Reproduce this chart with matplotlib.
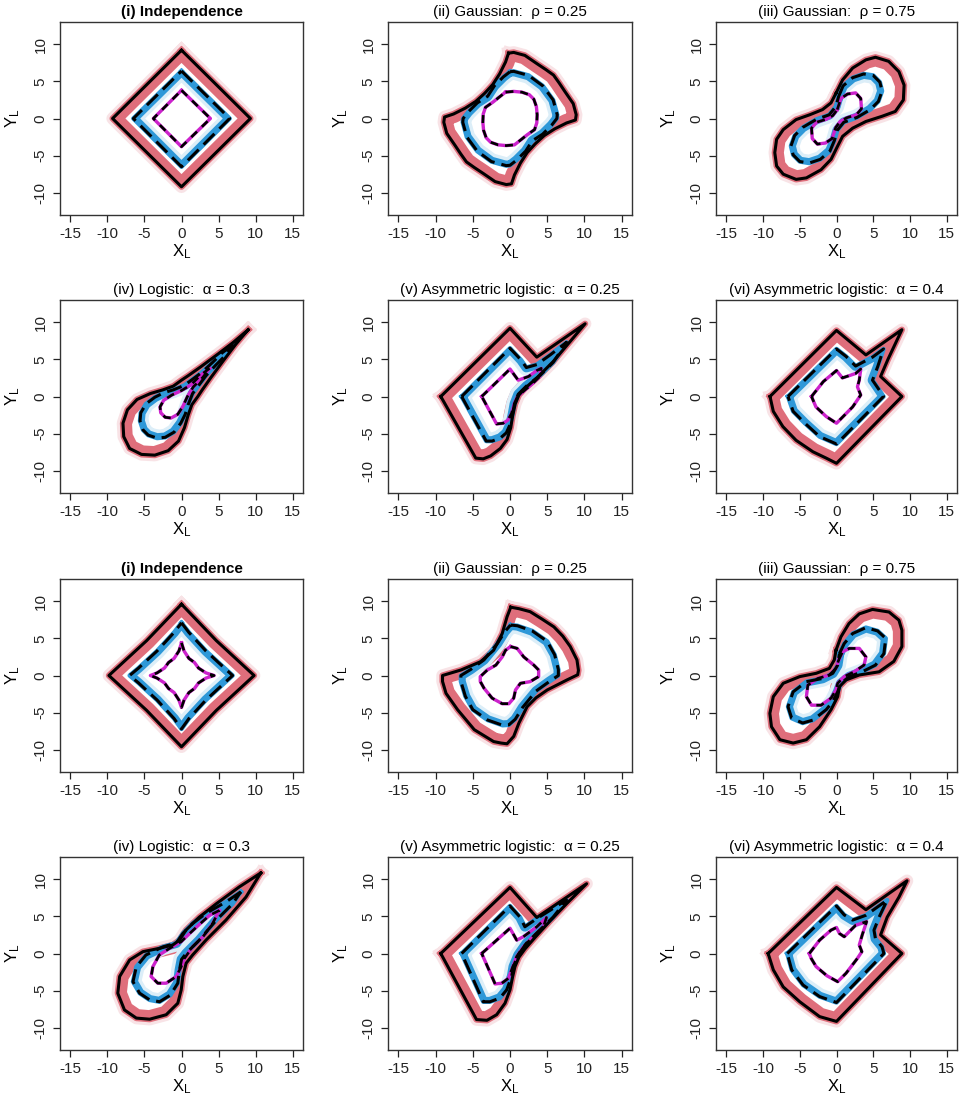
import matplotlib
matplotlib.use("Agg")
import matplotlib.pyplot as plt
from matplotlib.patches import Polygon

plt.rcParams['font.family'] = ['Liberation Sans', 'DejaVu Sans']
plt.rcParams['mathtext.default'] = 'regular'

# ---------------- data: contour vertices ----------------
titles = ["(i) Independence", "(ii) Gaussian:  \u03c1 = 0.25", "(iii) Gaussian:  \u03c1 = 0.75",
          "(iv) Logistic:  \u03b1 = 0.3", "(v) Asymmetric logistic:  \u03b1 = 0.25",
          "(vi) Asymmetric logistic:  \u03b1 = 0.4"]

# row 1 / row 3 : (i) independence
a1_outer = [(0, 9.2), (9.3, 0), (0, -9.2), (-9.3, 0)]
a1_mid = [(0, 6.4), (6.5, 0), (0, -6.5), (-6.5, 0)]
a1_inner = [(0, 3.8), (3.9, 0), (0, -3.8), (-3.8, 0)]

c1_outer = [(0, 9.6), (4.7, 4.7), (9.8, 0), (4.7, -4.7), (0, -9.6), (-4.7, -4.7), (-9.8, 0), (-4.7, 4.7)]
c1_mid = [(0, 7.1), (1.0, 5.8), (3.3, 3.3), (5.8, 1.0), (6.9, 0), (5.8, -1.0), (3.3, -3.3), (1.0, -5.8),
          (0, -7.2), (-1.0, -5.8), (-3.3, -3.3), (-5.8, -1.0), (-7.0, 0), (-5.8, 1.0), (-3.3, 3.3), (-1.0, 5.8)]
c1_inner = [(0, 4.4), (0.35, 3.3), (1.0, 2.3), (1.75, 1.75), (2.3, 1.0), (3.3, 0.35), (4.4, 0),
            (3.3, -0.35), (2.3, -1.0), (1.75, -1.75), (1.0, -2.3), (0.35, -3.3), (0, -4.3),
            (-0.35, -3.3), (-1.0, -2.3), (-1.75, -1.75), (-2.3, -1.0), (-3.3, -0.35), (-4.2, 0),
            (-3.3, 0.35), (-2.3, 1.0), (-1.75, 1.75), (-1.0, 2.3), (-0.35, 3.3)]

# (ii) Gaussian rho = 0.25
a2_outer = [(-0.2, 8.8), (0.5, 8.9), (2.0, 8.5), (3.6, 7.4), (4.8, 6.6), (5.85, 5.85), (6.6, 4.8),
            (7.4, 3.6), (8.5, 2.0), (8.9, 0.5), (8.8, -0.2), (7.6, -0.6), (6.0, -1.4), (4.6, -2.3),
            (3.4, -3.4), (2.3, -4.6), (1.4, -6.0), (0.6, -7.6), (0.2, -8.8), (-0.5, -8.9), (-2.0, -8.5),
            (-3.6, -7.4), (-4.8, -6.6), (-5.85, -5.85), (-6.6, -4.8), (-7.4, -3.6), (-8.5, -2.0),
            (-8.9, -0.5), (-8.8, 0.2), (-7.6, 0.6), (-6.0, 1.4), (-4.6, 2.3), (-3.4, 3.4), (-2.3, 4.6),
            (-1.4, 6.0), (-0.6, 7.6)]
a2_mid = [(0, 6.3), (0.5, 6.35), (2.5, 5.8), (4.4, 4.4), (5.8, 2.5), (6.35, 0.5), (6.3, 0), (5.6, -0.9),
          (4.4, -2.1), (3.0, -3.0), (2.1, -4.4), (0.9, -5.6), (0, -6.3), (-0.5, -6.35), (-2.5, -5.8),
          (-4.4, -4.4), (-5.8, -2.5), (-6.35, -0.5), (-6.3, 0), (-5.6, 0.9), (-4.4, 2.1), (-3.0, 3.0),
          (-2.1, 4.4), (-0.9, 5.6)]
a2_inner = [(-0.6, 3.55), (0.5, 3.65), (1.6, 3.55), (2.6, 3.2), (3.2, 2.6), (3.55, 1.6), (3.65, 0.5),
            (3.6, -0.6), (3.3, -1.5), (2.3, -2.2), (1.3, -3.0), (0.6, -3.55), (-0.5, -3.65), (-1.6, -3.55),
            (-2.6, -3.2), (-3.2, -2.6), (-3.55, -1.6), (-3.65, -0.5), (-3.6, 0.6), (-3.3, 1.5),
            (-2.3, 2.2), (-1.3, 3.0)]

c2_outer = [(0.1, 9.2), (1.2, 9.0), (2.7, 8.6), (4.3, 7.6), (5.9, 6.55), (7.1, 5.3), (8.1, 3.9), (9.0, 2.1),
            (9.2, 0.7), (9.1, 0.1), (7.65, -0.6), (5.0, -1.95), (3.5, -3.0), (2.3, -4.2), (1.2, -6.4),
            (0.5, -8.2), (-0.4, -9.2), (-1.2, -9.1), (-2.2, -8.9), (-4.8, -7.3), (-7.05, -4.6),
            (-8.6, -2.4), (-9.07, -0.8), (-9.07, 0), (-6.6, 0.74), (-3.95, 1.86), (-2.2, 3.4),
            (-1.05, 5.65), (-0.4, 7.9)]
c2_mid = [(0.07, 6.8), (1.0, 6.7), (3.0, 6.0), (5.0, 4.6), (6.0, 2.8), (6.5, 0.8), (6.5, 0), (5.3, -0.8),
          (3.5, -2.1), (1.7, -4.3), (0.7, -5.9), (-0.15, -6.65), (-1.0, -6.7), (-3.0, -6.0), (-5.0, -4.6),
          (-6.0, -2.8), (-6.6, -0.8), (-6.6, 0), (-5.3, 0.8), (-3.5, 2.1), (-1.7, 4.3), (-0.7, 5.9)]
c2_inner = [(0.07, 3.9), (0.96, 3.65), (1.85, 2.5), (3.2, 1.4), (3.85, 0.74), (3.85, -0.15), (2.7, -0.83),
            (1.4, -1.05), (0.74, -1.95), (0.5, -3.05), (-0.15, -3.8), (-1.05, -3.8), (-2.4, -3.05),
            (-3.5, -1.7), (-4.0, -0.8), (-4.0, -0.15), (-3.05, 0.74), (-1.9, 1.4), (-1.05, 2.5),
            (-0.6, 3.4)]

# (iii) Gaussian rho = 0.75
a3_outer = [(-0.07, 3.4), (0.83, 5.2), (2.2, 6.8), (4.0, 7.9), (5.3, 8.25), (7.1, 7.7), (8.5, 6.3),
            (9.2, 4.5), (9.1, 2.5), (8.0, 0.95), (6.2, 0.3), (4.0, -0.4), (2.2, -1.3), (0.83, -2.4),
            (0.16, -3.7), (-0.74, -5.5), (-2.1, -6.9), (-4.1, -8.0), (-5.5, -8.2), (-7.25, -7.5),
            (-8.15, -6.4), (-8.4, -4.6), (-8.15, -2.8), (-7.25, -1.5), (-5.5, -0.15), (-3.65, 0.5),
            (-1.9, 1.2), (-0.75, 2.1)]
a3_mid = [(0.3, 3.0), (0.9, 4.4), (2.2, 5.5), (3.7, 6.0), (5.0, 5.8), (5.9, 4.9), (6.2, 3.7), (5.7, 2.3),
          (4.6, 1.2), (2.8, 0.15), (1.0, -0.5), (0.1, -1.6), (-0.3, -3.0), (-0.9, -4.4), (-2.2, -5.5),
          (-3.7, -6.0), (-5.0, -5.8), (-5.9, -4.9), (-6.2, -3.7), (-5.7, -2.3), (-4.6, -1.2),
          (-2.8, -0.15), (-1.0, 0.5), (-0.1, 1.6)]
a3_inner = [(0.1, 1.2), (0.6, 2.7), (1.5, 3.3), (2.6, 3.45), (3.3, 2.7), (3.4, 1.3), (2.7, 0.5), (1.4, 0.1),
            (0.5, -0.4), (-0.1, -1.2), (-0.6, -2.7), (-1.5, -3.3), (-2.6, -3.45), (-3.3, -2.7),
            (-3.4, -1.3), (-2.7, -0.5), (-1.4, -0.1), (-0.5, 0.4)]

c3_outer = [(-0.07, 3.4), (0.6, 5.2), (1.7, 7.0), (3.1, 8.3), (4.9, 8.9), (7.15, 8.55), (8.5, 7.45),
            (8.9, 6.1), (8.9, 3.9), (7.8, 1.9), (5.8, 0.5), (3.1, 0.07), (1.3, -0.6), (0.4, -1.5),
            (0.16, -2.85), (-0.74, -4.6), (-2.3, -6.9), (-4.1, -8.65), (-5.9, -9.1), (-7.7, -8.65),
            (-8.85, -6.9), (-9.07, -5.1), (-8.6, -2.85), (-7.25, -1.05), (-5.0, -0.15), (-2.75, 0.3),
            (-0.97, 0.96), (-0.3, 2.1)]
c3_mid = [(0.4, 2.95), (1.05, 4.3), (2.2, 5.65), (4.0, 6.45), (5.6, 6.0), (6.7, 5.0), (6.45, 2.95),
          (5.3, 1.4), (3.5, 0.5), (1.75, -0.15), (0.6, -1.05), (0.16, -2.2), (-0.5, -3.5), (-1.4, -4.6),
          (-3.2, -6.0), (-4.6, -6.4), (-6.1, -5.75), (-6.6, -4.2), (-5.9, -2.2), (-4.1, -0.83),
          (-1.9, -0.4), (-0.5, 0.3), (0.16, 1.4)]
c3_inner = [(0.3, 2.1), (0.83, 3.2), (1.75, 3.65), (3.1, 3.65), (4.0, 2.5), (3.75, 1.4), (2.4, 0.5),
            (1.05, -0.15), (0.16, -1.05), (-0.07, -1.95), (-0.74, -3.05), (-2.1, -4.0), (-3.4, -4.0),
            (-4.1, -2.85), (-3.9, -1.3), (-2.55, -0.4), (-0.97, 0.07), (-0.07, 0.96)]

# (iv) logistic alpha = 0.3
b1_outer = [(9.0, 9.0), (7.0, 7.3), (4.9, 5.7), (2.6, 4.0), (0.9, 2.8), (0, 2.2), (-1.1, 1.4), (-2.5, 0.9),
            (-4.2, 0.4), (-6.0, -0.4), (-7.3, -1.8), (-7.9, -3.6), (-7.8, -5.4), (-7.0, -7.0), (-5.4, -7.8),
            (-3.6, -7.9), (-1.8, -7.3), (-0.4, -6.0), (0.4, -4.2), (0.9, -2.5), (1.4, -1.1), (2.2, 0),
            (2.8, 0.9), (4.0, 2.6), (5.7, 4.9), (7.3, 7.0)]
b1_mid = [(7.0, 7.0), (5.5, 5.9), (4.2, 4.6), (2.8, 3.3), (1.6, 2.4), (0.4, 1.5), (-1.1, 0.9), (-2.4, 0.5),
          (-3.6, -0.1), (-4.8, -1.0), (-5.5, -2.2), (-5.6, -3.3), (-5.2, -4.5), (-4.5, -5.2), (-3.3, -5.6),
          (-2.2, -5.5), (-1.0, -4.8), (-0.1, -3.6), (0.5, -2.4), (0.9, -1.1), (1.5, 0.4), (2.4, 1.6),
          (3.3, 2.8), (4.6, 4.2), (5.9, 5.5)]
b1_inner = [(3.8, 3.8), (2.6, 2.9), (1.3, 1.6), (0, 0.8), (-1.3, 0.2), (-2.4, -0.5), (-2.9, -1.4),
            (-2.8, -2.2), (-2.2, -2.8), (-1.4, -2.9), (-0.5, -2.4), (0.2, -1.3), (0.8, 0), (1.6, 1.3),
            (2.9, 2.6)]

d1_outer = [(10.7, 10.85), (7.8, 8.97), (4.7, 6.7), (2.4, 4.9), (0.6, 3.15), (-0.27, 1.8), (-1.2, 1.14),
            (-2.96, 0.7), (-5.2, 0.25), (-7.0, -0.87), (-8.35, -3.1), (-8.6, -5.35), (-7.7, -7.6),
            (-6.1, -8.7), (-4.3, -8.85), (-2.07, -8.25), (-0.5, -6.7), (-0.04, -4.9), (0.18, -3.1),
            (0.63, -1.3), (1.5, -0.2), (3.3, 1.8), (6.0, 4.5), (8.7, 7.6)]
d1_mid = [(8.0, 8.3), (6.0, 6.95), (3.3, 5.4), (1.5, 4.05), (0.18, 2.7), (-0.7, 1.4), (-2.5, 0.9),
          (-4.8, -0.2), (-6.1, -1.8), (-6.55, -3.8), (-5.65, -5.35), (-4.3, -6.25), (-2.96, -6.5),
          (-1.5, -5.6), (-0.5, -4.0), (-0.27, -2.2), (0.0, -0.8), (0.63, 0.02), (2.4, 1.8), (4.7, 4.5),
          (6.9, 6.7)]
d1_inner = [(5.1, 5.8), (3.8, 5.15), (2.5, 4.0), (1.1, 2.7), (-0.04, 1.6), (-1.6, 0.7), (-3.0, -0.2),
            (-3.86, -1.77), (-4.1, -3.1), (-3.2, -4.0), (-2.07, -4.0), (-0.7, -3.1), (-0.04, -1.77),
            (0.4, -0.65), (1.5, 0.9), (2.9, 2.26), (4.2, 4.05)]

# (v) asymmetric logistic alpha = 0.25
b2_outer = [(-9.3, 0), (0, 9.2), (3.6, 5.3), (10.1, 9.8), (5.8, 4.7), (3.6, 2.5), (2.0, 1.1), (1.2, 0.2),
            (0.7, -1.0), (0.35, -2.6), (0.1, -4.2), (-0.4, -5.8), (-1.3, -7.0), (-2.6, -8.0),
            (-3.6, -8.4), (-4.6, -8.3)]
b2_mid = [(-6.5, 0), (0, 6.5), (1.5, 4.9), (2.2, 3.9), (3.6, 4.3), (5.4, 5.6), (7.6, 7.3), (5.8, 4.6),
          (4.0, 2.8), (2.2, 1.4), (1.1, 0.3), (0.6, -1.0), (0.3, -2.6), (0, -3.8), (-0.5, -4.9),
          (-1.3, -5.6), (-2.4, -6.0), (-3.2, -6.0)]
b2_inner = [(-3.8, 0), (0, 3.7), (1.1, 2.2), (2.5, 2.7), (3.6, 3.5), (4.2, 3.8), (4.0, 2.7), (3.1, 1.8),
            (1.8, 0.7), (1.0, 0), (0.6, -0.9), (0.2, -2.3), (-0.3, -3.2), (-0.9, -3.6), (-1.8, -3.7)]

d2_outer = [(-9.3, 0), (0, 8.9), (3.6, 4.85), (10.3, 9.4), (7.6, 6.7), (5.4, 4.4), (3.4, 2.2), (2.0, 0.6),
            (1.2, -0.5), (0.67, -1.77), (0.36, -3.1), (0, -4.9), (-0.67, -6.7), (-1.8, -8.25),
            (-3.1, -9.0), (-4.5, -8.9)]
d2_mid = [(-6.5, 0), (0, 6.4), (1.35, 4.9), (2.0, 3.6), (3.6, 4.7), (7.6, 7.2), (5.8, 4.9), (4.0, 3.15),
          (2.2, 1.37), (1.1, -0.2), (0.45, -1.77), (0.22, -3.1), (-0.45, -4.9), (-1.35, -6.0),
          (-2.7, -6.5), (-3.6, -6.5)]
d2_inner = [(-3.8, 0), (0, 3.4), (0.9, 1.8), (1.8, 2.26), (3.6, 3.6), (4.9, 4.85), (4.5, 3.6), (3.1, 2.26),
            (1.8, 0.9), (0.9, -0.4), (0.22, -2.2), (-0.22, -3.35), (-1.1, -4.0), (-2.0, -4.1)]

# (vi) asymmetric logistic alpha = 0.4
b3_outer = [(-9.05, 0), (0, 8.9), (4.0, 5.6), (8.9, 9.0), (7.0, 5.0), (6.0, 2.7), (8.9, 0), (0, -9.0),
            (-1.4, -8.3), (-3.2, -7.45), (-5.5, -5.9), (-7.3, -4.05), (-8.6, -2.0)]
b3_mid = [(-6.6, 0), (0, 6.4), (1.3, 5.4), (2.6, 4.1), (4.9, 5.3), (6.4, 6.4), (5.6, 4.0), (4.9, 2.2),
          (5.8, 0.9), (6.4, 0), (0, -6.4), (-2.3, -5.4), (-4.3, -3.6), (-5.9, -2.0)]
b3_inner = [(-3.4, 0), (-1.8, 2.0), (0, 3.5), (0.8, 2.5), (2.6, 3.1), (3.3, 3.7), (3.1, 2.2), (2.85, 1.3),
            (3.3, 0.2), (2.2, -1.4), (0, -3.6), (-1.4, -2.7), (-2.8, -1.4)]

d3_outer = [(-9.3, 0), (0, 8.9), (4.0, 5.9), (9.6, 9.8), (8.5, 7.6), (6.9, 4.9), (6.0, 2.5), (8.9, 0),
            (0, -9.15), (-2.3, -8.5), (-5.0, -6.5), (-7.25, -4.5), (-8.6, -2.2)]
d3_mid = [(-6.7, 0), (0, 6.4), (1.05, 5.2), (2.2, 4.5), (4.0, 5.15), (6.9, 7.2), (5.8, 4.9), (5.1, 3.15),
          (5.3, 2.0), (6.2, 0.9), (6.45, 0), (0, -6.6), (-2.3, -5.8), (-4.55, -4.25), (-6.1, -2.2)]
d3_inner = [(-3.7, 0), (-2.3, 1.8), (-0.74, 3.15), (0, 3.5), (0.4, 2.7), (1.05, 2.26), (2.6, 3.8),
            (4.1, 4.3), (3.5, 2.5), (3.1, 1.14), (3.45, 0.25), (2.85, -0.65), (1.3, -2.66), (0.16, -3.8),
            (-1.3, -3.0), (-2.77, -1.77), (-3.45, -0.65)]

panels = [
    (a1_outer, a1_mid, a1_inner), (a2_outer, a2_mid, a2_inner), (a3_outer, a3_mid, a3_inner),
    (b1_outer, b1_mid, b1_inner), (b2_outer, b2_mid, b2_inner), (b3_outer, b3_mid, b3_inner),
    (c1_outer, c1_mid, c1_inner), (c2_outer, c2_mid, c2_inner), (c3_outer, c3_mid, c3_inner),
    (d1_outer, d1_mid, d1_inner), (d2_outer, d2_mid, d2_inner), (d3_outer, d3_mid, d3_inner),
]
xticks = [-15, -10, -5, 0, 5, 10, 15]
yticks = [-10, -5, 0, 5, 10]

# ---------------- styling / layout ----------------
PINK = '#DF6E7B'
PINK_FAINT = '#F3CDD2'
BLUE = '#2E98D8'
BLUE_LIGHT = '#DCEEF8'
MAGENTA = '#CC22CC'

W, H = 964, 1102
fig = plt.figure(figsize=(W / 100, H / 100), dpi=100)

col_left = [60, 388, 716]
col_width = [243, 244, 241]
row_top = [22, 300, 579, 857]
row_h = 193


def closed(pts):
    xs = [p[0] for p in pts] + [pts[0][0]]
    ys = [p[1] for p in pts] + [pts[0][1]]
    return xs, ys


def draw_panel(ax, outer, mid, inner):
    ox, oy = closed(outer)
    mx, my = closed(mid)
    ix, iy = closed(inner)
    opoly = Polygon(outer, closed=True, transform=ax.transData)
    mpoly = Polygon(mid, closed=True, transform=ax.transData)
    # faint spread of the outer estimates
    ax.plot(ox, oy, color=PINK_FAINT, lw=9, alpha=0.55, solid_joinstyle='round', zorder=1)
    band = ax.plot(ox, oy, color=PINK, lw=13, solid_joinstyle='round', zorder=2)[0]
    band.set_clip_path(opoly)
    ax.plot(ox, oy, color=PINK, lw=4.5, solid_joinstyle='round', zorder=2)
    # middle estimates
    lb = ax.plot(mx, my, color=BLUE_LIGHT, lw=12, solid_joinstyle='round', zorder=3)[0]
    lb.set_clip_path(mpoly)
    bb = ax.plot(mx, my, color=BLUE, lw=7, solid_joinstyle='round', zorder=4)[0]
    bb.set_clip_path(mpoly)
    ax.plot(mx, my, color=BLUE, lw=3.2, solid_joinstyle='round', zorder=4)
    # inner
    ax.plot(ix, iy, color=MAGENTA, lw=2.4, solid_joinstyle='round', zorder=5)
    ax.plot(ix, iy, color='black', lw=1.9, dashes=(3.0, 2.6), zorder=6)
    ax.plot(mx, my, color='black', lw=2.2, dashes=(5.0, 2.3), zorder=6)
    ax.plot(ox, oy, color='black', lw=2.2, solid_joinstyle='round', zorder=7)


for k, (outer, mid, inner) in enumerate(panels):
    r, c = divmod(k, 3)
    left = col_left[c] / W
    bottom = 1 - (row_top[r] + row_h) / H
    ax = fig.add_axes([left, bottom, col_width[c] / W, row_h / H])
    draw_panel(ax, outer, mid, inner)
    ax.set_xlim(-16.4, 16.4)
    ax.set_ylim(-13.0, 13.0)
    ax.set_xticks(xticks)
    ax.set_yticks(yticks)
    ax.set_xticklabels([str(v) for v in xticks])
    ax.set_yticklabels([str(v) for v in yticks], rotation=90, va='center')
    ax.tick_params(direction='out', length=5, width=0.9, labelsize=11, pad=3.5, colors='#222222')
    ax.tick_params(axis='y', pad=4)
    for s in ax.spines.values():
        s.set_linewidth(1.0)
        s.set_color('#333333')
    t = titles[k % 6]
    ax.set_title(t, fontsize=11, fontweight='bold' if (k % 6) == 0 else 'normal', pad=4)
    ax.set_xlabel(r'$X_L$', fontsize=12)
    ax.set_ylabel(r'$Y_L$', fontsize=12)
    ax.xaxis.label.set_va('center')
    ax.xaxis.set_label_coords(0.5, -37 / row_h)
    ax.yaxis.label.set_va('center')
    ax.yaxis.label.set_ha('center')
    ax.yaxis.set_label_coords(-47 / col_width[c], 0.5)

fig.savefig('out.png', dpi=100)
